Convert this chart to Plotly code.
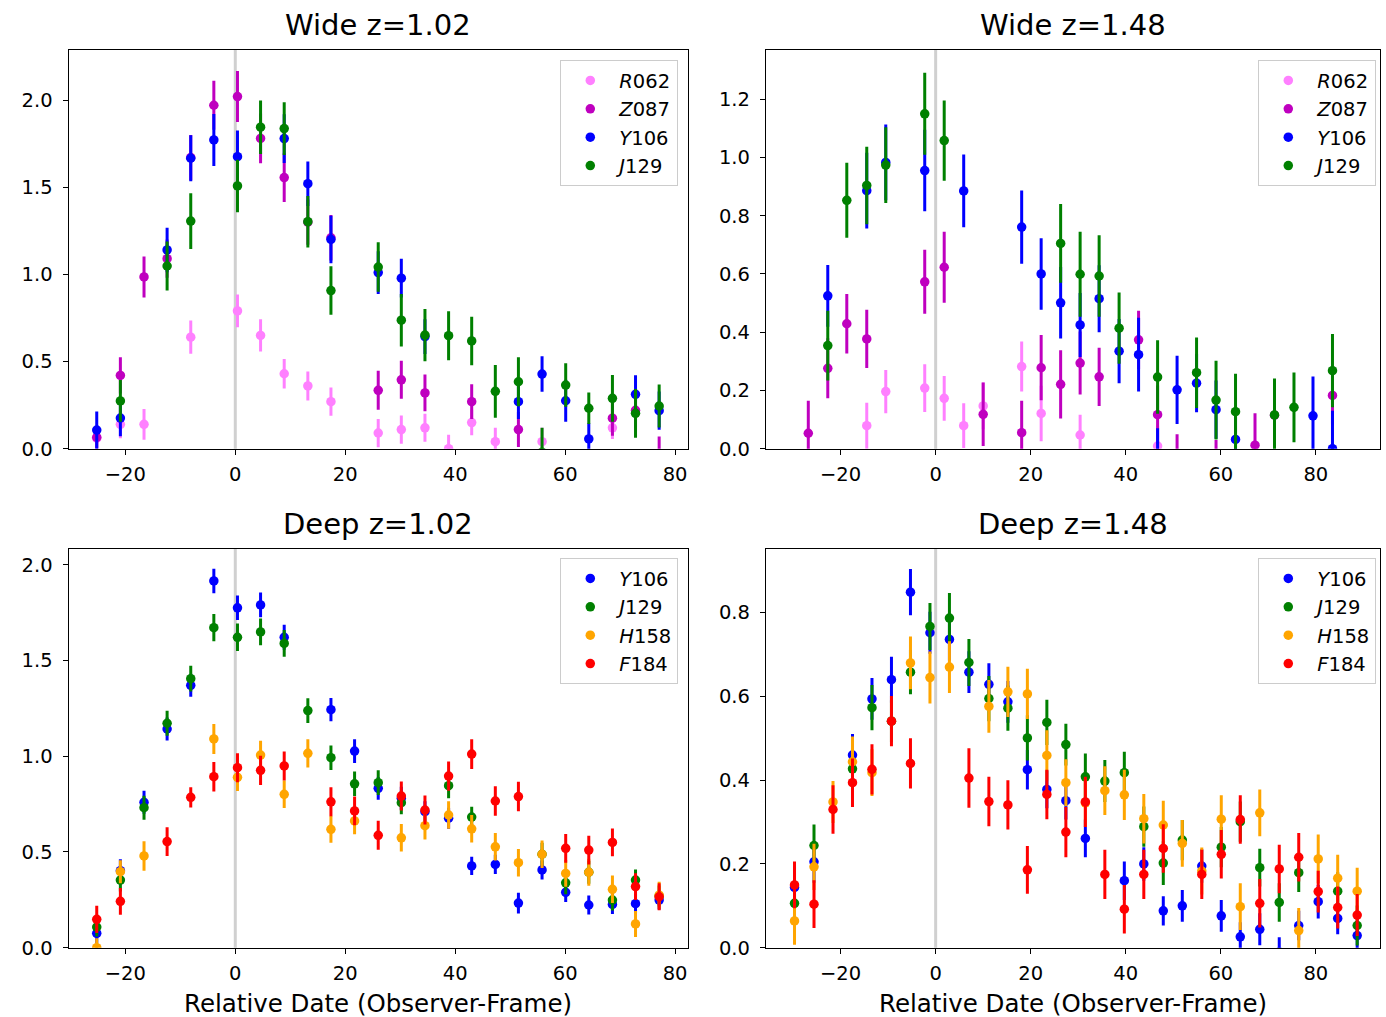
import plotly.graph_objects as go

# ---------------- data ----------------
# epochs (observer-frame relative date, days)
X_A = [-25.2, -20.9, -16.6, -12.4, -8.1, -3.9, 0.4, 4.6, 8.9, 13.2, 17.4, 21.7, 26.0, 30.2,
       34.5, 38.8, 43.0, 47.3, 51.5, 55.8, 60.1, 64.3, 68.6, 72.8, 77.1]
X_B = [-26.8, -22.7, -18.7, -14.5, -10.5, -6.4, -2.3, 1.8, 5.9, 10.0, 14.1, 18.1, 22.2, 26.3,
       30.4, 34.4, 38.6, 42.7, 46.7, 50.8, 54.9, 59.0, 63.1, 67.2, 71.3, 75.4, 79.4, 83.5]
X_C = [-29.7, -25.6, -21.6, -17.5, -13.4, -9.3, -5.3, -1.2, 2.9, 7.0, 11.2, 15.2, 19.3, 23.4,
       27.4, 31.5, 35.6, 39.7, 43.8, 47.9, 51.9, 56.0, 60.1, 64.1, 68.2, 72.3, 76.4, 80.5, 84.6, 88.7]

# Wide z=1.02 (X_A)
W1_R062 = [0.06, 0.14, 0.14, None, 0.64, None, 0.79, 0.65, 0.43, 0.36, 0.27, None, 0.09, 0.11,
           0.12, 0.0, 0.15, 0.04, None, 0.04, None, None, 0.12, None, None]
W1_R062_ERR = [0.07, 0.08, 0.088, None, 0.095, None, 0.094, 0.093, 0.084, 0.083, 0.081, None, 0.081, 0.081,
               0.08, 0.08, 0.073, 0.08, None, 0.08, None, None, 0.065, None, None]
W1_Z087 = [0.065, 0.42, 0.985, 1.09, 1.67, 1.97, 2.02, 1.78, 1.555, 1.30, 1.21, None, 0.335, 0.395,
           0.32, None, 0.27, None, 0.11, None, None, None, 0.175, 0.22, -0.03]
W1_Z087_ERR = [0.06, 0.104, 0.117, 0.11, 0.13, 0.141, 0.146, 0.143, 0.14, 0.13, 0.13, None, 0.112, 0.109,
               0.105, None, 0.10, None, 0.10, None, None, None, 0.10, 0.10, 0.10]
W1_Y106 = [0.107, 0.176, None, 1.14, 1.666, 1.771, 1.675, None, 1.779, 1.52, 1.20, None, 1.01, 0.978,
           0.643, None, None, None, 0.27, 0.428, 0.275, 0.056, None, 0.312, 0.218]
W1_Y106_ERR = [0.107, 0.105, None, 0.128, 0.132, 0.149, 0.15, None, 0.14, 0.128, 0.136, None, 0.122, 0.111,
               0.10, None, None, None, 0.10, 0.102, 0.12, 0.09, None, 0.11, 0.11]
W1_J129 = [None, 0.274, None, 1.048, 1.306, None, 1.507, 1.844, 1.836, 1.302, 0.907, None, 1.042, 0.737,
           0.652, 0.648, 0.618, 0.329, 0.384, -0.02, 0.365, 0.232, 0.289, 0.203, 0.245]
W1_J129_ERR = [None, 0.12, None, 0.14, 0.16, None, 0.151, 0.153, 0.151, 0.148, 0.139, None, 0.142, 0.151,
               0.15, 0.14, 0.139, 0.151, 0.14, 0.14, 0.125, 0.09, 0.134, 0.14, 0.123]

# Wide z=1.48 (X_B)
W2_R062 = [None, None, None, 0.079, 0.196, None, 0.208, 0.173, 0.079, 0.147, None, 0.282, 0.121, None,
           0.047, None, None, None, 0.009, None, None, None, None, None, None, None, None, None]
W2_R062_ERR = [None, None, None, 0.079, 0.074, None, 0.082, 0.077, 0.077, 0.08, None, 0.086, 0.095, None,
               0.07, None, None, None, 0.07, None, None, None, None, None, None, None, None, None]
W2_Z087 = [0.053, 0.276, 0.429, 0.377, None, None, 0.573, 0.623, None, 0.118, None, 0.055, 0.278, 0.221,
           0.294, 0.247, None, 0.374, 0.117, -0.05, None, -0.07, None, 0.012, 0.115, None, None, 0.183]
W2_Z087_ERR = [0.112, 0.103, 0.102, 0.10, None, None, 0.11, 0.122, None, 0.109, None, 0.11, 0.112, 0.117,
               0.108, 0.10, None, 0.10, 0.10, 0.10, None, 0.10, None, 0.11, 0.10, None, None, 0.10]
W2_Y106 = [None, 0.525, None, 0.886, 0.983, None, 0.955, None, 0.885, None, None, 0.761, 0.600, 0.501,
           0.425, 0.515, 0.335, 0.323, -0.05, 0.202, 0.225, 0.134, 0.032, None, None, None, 0.113, 0.0]
W2_Y106_ERR = [None, 0.106, None, 0.13, 0.13, None, 0.14, None, 0.125, None, None, 0.126, 0.123, 0.123,
               0.11, 0.115, 0.11, 0.127, 0.12, 0.117, 0.10, 0.10, 0.10, None, None, None, 0.135, 0.13]
W2_J129 = [None, 0.354, 0.853, 0.904, 0.974, None, 1.150, 1.058, None, None, None, None, None, 0.705,
           0.599, 0.593, 0.414, None, 0.246, None, 0.261, 0.167, 0.127, None, 0.116, 0.142, None, 0.268]
W2_J129_ERR = [None, 0.12, 0.129, 0.133, 0.13, None, 0.141, 0.138, None, None, None, None, None, 0.135,
               0.146, 0.14, 0.122, None, 0.126, None, 0.121, 0.135, 0.13, None, 0.125, 0.12, None, 0.126]

# Deep z=1.02 (X_A)
D1_Y106 = [0.075, 0.402, 0.759, 1.142, 1.370, 1.915, 1.775, 1.790, 1.621, None, 1.243, 1.027, 0.832, 0.780,
           0.710, 0.676, 0.427, 0.435, 0.233, 0.406, 0.289, 0.223, 0.226, 0.230, 0.249]
D1_Y106_ERR = [0.05, 0.06, 0.06, 0.06, 0.06, 0.064, 0.064, 0.065, 0.065, None, 0.061, 0.062, 0.06, 0.06,
               0.055, 0.055, 0.048, 0.05, 0.054, 0.05, 0.05, 0.05, 0.05, 0.05, 0.05]
D1_J129 = [0.108, 0.353, 0.731, 1.172, 1.405, 1.671, 1.621, 1.649, 1.589, 1.238, 0.992, 0.856, 0.862, 0.757,
           None, 0.846, 0.682, None, None, 0.488, 0.339, 0.394, 0.249, 0.353, 0.27]
D1_J129_ERR = [0.05, 0.06, 0.063, 0.065, 0.067, 0.071, 0.072, 0.07, 0.07, 0.065, 0.064, 0.064, 0.064, 0.06,
               None, 0.065, 0.054, None, None, 0.06, 0.06, 0.06, 0.055, 0.055, 0.055]
D1_H158 = [0.0, 0.397, 0.479, None, None, 1.090, 0.890, 1.006, 0.801, 1.015, 0.618, 0.662, None, 0.574,
           0.637, 0.693, 0.621, 0.527, 0.444, 0.488, 0.388, 0.394, 0.305, 0.124, 0.274]
D1_H158_ERR = [0.05, 0.06, 0.077, None, None, 0.078, 0.072, 0.075, 0.072, 0.074, 0.07, 0.07, None, 0.072,
               0.072, 0.072, 0.072, 0.072, 0.072, 0.072, 0.07, 0.07, 0.072, 0.068, 0.07]
D1_F184 = [0.148, 0.242, None, 0.554, 0.785, 0.893, 0.940, 0.926, 0.949, None, 0.762, 0.714, 0.587, 0.792,
           0.719, 0.896, 1.011, 0.766, 0.789, None, 0.519, 0.510, 0.550, 0.319, 0.266]
D1_F184_ERR = [0.071, 0.07, None, 0.075, 0.053, 0.077, 0.076, 0.076, 0.076, None, 0.076, 0.075, 0.076, 0.076,
               0.076, 0.076, 0.078, 0.077, 0.077, None, 0.075, 0.075, 0.072, 0.07, 0.07]

# Deep z=1.48 (X_C)
D2_Y106 = [0.144, 0.205, None, 0.460, 0.594, 0.640, 0.849, 0.752, 0.736, 0.658, 0.629, 0.587, 0.425, 0.378,
           0.351, 0.261, None, 0.160, 0.200, 0.088, 0.100, 0.195, 0.076, 0.026, 0.044, -0.01, 0.053, 0.110,
           0.070, 0.029]
D2_Y106_ERR = [0.05, 0.05, None, 0.05, 0.05, 0.055, 0.055, 0.05, 0.05, 0.05, 0.05, 0.05, 0.047, 0.045,
               0.045, 0.045, None, 0.046, 0.04, 0.035, 0.038, 0.04, 0.038, 0.035, 0.038, 0.035, 0.035, 0.04,
               0.038, 0.035]
D2_J129 = [0.106, 0.244, None, 0.427, 0.573, 0.541, 0.658, 0.767, 0.787, 0.681, 0.595, 0.572, 0.501, 0.538,
           0.485, 0.408, 0.398, 0.418, 0.289, 0.202, 0.257, None, 0.240, 0.301, 0.191, 0.108, 0.179, None,
           0.135, 0.053]
D2_J129_ERR = [0.05, 0.05, None, 0.05, 0.054, 0.05, 0.053, 0.056, 0.06, 0.056, 0.054, 0.054, 0.054, 0.054,
               0.05, 0.056, 0.05, 0.05, 0.048, 0.052, 0.048, None, 0.048, 0.048, 0.045, 0.046, 0.046, None,
               0.045, 0.048]
D2_H158 = [0.064, 0.193, 0.348, 0.444, 0.418, None, 0.680, 0.645, 0.670, None, 0.576, 0.611, 0.606, 0.459,
           0.394, 0.346, 0.375, 0.365, 0.308, 0.293, 0.249, 0.183, 0.307, 0.098, 0.322, None, 0.041, 0.212,
           0.166, 0.135]
D2_H158_ERR = [0.057, 0.055, 0.05, 0.06, 0.056, None, 0.063, 0.062, 0.062, None, 0.063, 0.06, 0.06, 0.06,
               0.056, 0.058, 0.058, 0.06, 0.059, 0.058, 0.056, 0.056, 0.057, 0.056, 0.056, None, 0.054, 0.058,
               0.056, 0.056]
D2_F184 = [0.150, 0.104, 0.330, 0.394, 0.426, 0.541, 0.440, None, None, 0.405, 0.349, 0.341, 0.186, 0.366,
           0.276, 0.348, 0.175, 0.092, 0.175, 0.237, None, 0.175, 0.223, 0.306, 0.106, 0.188, 0.216, 0.134,
           0.096, 0.078]
D2_F184_ERR = [0.056, 0.057, 0.058, 0.058, 0.06, 0.06, 0.06, None, None, 0.071, 0.059, 0.059, 0.057, 0.059,
               0.06, 0.06, 0.059, 0.058, 0.059, 0.058, None, 0.059, 0.058, 0.058, 0.058, 0.058, 0.058, 0.05,
               0.05, 0.05]

TITLES = ["Wide z=1.02", "Wide z=1.48", "Deep z=1.02", "Deep z=1.48"]
XLABEL = "Relative Date (Observer-Frame)"
COLORS = {"R062": "#ff80ff", "Z087": "#bf00bf", "Y106": "#0000ff",
          "J129": "#008000", "H158": "#ffa500", "F184": "#ff0000"}
LABELS = {"R062": "<i>R</i>062", "Z087": "<i>Z</i>087", "Y106": "<i>Y</i>106",
          "J129": "<i>J</i>129", "H158": "<i>H</i>158", "F184": "<i>F</i>184"}

panels = [
    dict(x=X_A, series=[("R062", W1_R062, W1_R062_ERR), ("Z087", W1_Z087, W1_Z087_ERR),
                        ("Y106", W1_Y106, W1_Y106_ERR), ("J129", W1_J129, W1_J129_ERR)],
         yrange=[0, 2.287], dtick=0.5, xrange=[-30.3, 82.4]),
    dict(x=X_B, series=[("R062", W2_R062, W2_R062_ERR), ("Z087", W2_Z087, W2_Z087_ERR),
                        ("Y106", W2_Y106, W2_Y106_ERR), ("J129", W2_J129, W2_J129_ERR)],
         yrange=[0, 1.369], dtick=0.2, xrange=[-35.7, 93.5]),
    dict(x=X_A, series=[("Y106", D1_Y106, D1_Y106_ERR), ("J129", D1_J129, D1_J129_ERR),
                        ("H158", D1_H158, D1_H158_ERR), ("F184", D1_F184, D1_F184_ERR)],
         yrange=[0, 2.082], dtick=0.5, xrange=[-30.3, 82.4]),
    dict(x=X_C, series=[("Y106", D2_Y106, D2_Y106_ERR), ("J129", D2_J129, D2_J129_ERR),
                        ("H158", D2_H158, D2_H158_ERR), ("F184", D2_F184, D2_F184_ERR)],
         yrange=[0, 0.952], dtick=0.2, xrange=[-35.7, 93.5]),
]

# ---------------- layout geometry ----------------
W, H = 1386, 1017
XDOM = [[68.7 / W, 688.3 / W], [766 / W, 1380 / W], [68.7 / W, 688.3 / W], [766 / W, 1380 / W]]
YDOM = [[1 - 448.7 / H, 1 - 50 / H], [1 - 448.7 / H, 1 - 50 / H],
        [1 - 947.7 / H, 1 - 549 / H], [1 - 947.7 / H, 1 - 549 / H]]
LEG = [(678 / W, 1 - 60 / H), (1376 / W, 1 - 60 / H), (678 / W, 1 - 558 / H), (1376 / W, 1 - 558 / H)]

FONT = "DejaVu Sans"
fig = go.Figure()
layout = dict(width=W, height=H, margin=dict(l=0, r=0, t=0, b=0, autoexpand=False),
              paper_bgcolor="white", plot_bgcolor="white",
              font=dict(family=FONT, color="black", size=19.5), showlegend=True)
annotations = []
shapes = []

for i, p in enumerate(panels):
    k = "" if i == 0 else str(i + 1)
    lg = "legend" if i == 0 else "legend%d" % (i + 1)
    for name, ys, es in p["series"]:
        fig.add_trace(go.Scatter(
            x=p["x"], y=ys, mode="markers", name=LABELS[name],
            xaxis="x" + k, yaxis="y" + k, legend=lg, legendgroup=name + k,
            marker=dict(color=COLORS[name], size=9.5, line=dict(width=0)),
            error_y=dict(type="data", array=es, visible=True, color=COLORS[name],
                         thickness=3, width=0),
            cliponaxis=True,
        ))
    axis_common = dict(showline=True, linecolor="black", linewidth=1.4, mirror=True,
                       ticks="outside", ticklen=5, tickwidth=1.3, tickcolor="black",
                       showgrid=False, zeroline=False, automargin=False,
                       tickfont=dict(family=FONT, size=19.5, color="black"))
    layout["xaxis" + k] = dict(domain=XDOM[i], range=p["xrange"], anchor="y" + k,
                               tickmode="linear", tick0=-20, dtick=20, ticklabelstandoff=3,
                               **axis_common)
    layout["yaxis" + k] = dict(domain=YDOM[i], range=p["yrange"], anchor="x" + k,
                               tickmode="linear", tick0=0, dtick=p["dtick"], tickformat=".1f",
                               ticklabelstandoff=6, **axis_common)
    layout[lg] = dict(x=LEG[i][0], y=LEG[i][1], xanchor="right", yanchor="top",
                      bgcolor="rgba(255,255,255,0.8)", bordercolor="#cccccc", borderwidth=1.3,
                      font=dict(family=FONT, size=19.5, color="black"),
                      tracegroupgap=0, itemwidth=48)
    shapes.append(dict(type="line", xref="x" + k, yref="y%s domain" % k,
                       x0=0, x1=0, y0=0, y1=1, layer="below",
                       line=dict(color="#d0d0d0", width=3)))
    annotations.append(dict(text=TITLES[i], xref="paper", yref="paper",
                            x=(XDOM[i][0] + XDOM[i][1]) / 2, y=YDOM[i][1],
                            xanchor="center", yanchor="bottom", yshift=6, showarrow=False,
                            font=dict(family=FONT, size=29, color="black")))
    if i >= 2:
        annotations.append(dict(text=XLABEL, xref="paper", yref="paper",
                                x=(XDOM[i][0] + XDOM[i][1]) / 2, y=1 - 1003 / H,
                                xanchor="center", yanchor="middle", showarrow=False,
                                font=dict(family=FONT, size=24.5, color="black")))

layout["annotations"] = annotations
layout["shapes"] = shapes
fig.update_layout(**layout)
fig.write_html("out.html")
